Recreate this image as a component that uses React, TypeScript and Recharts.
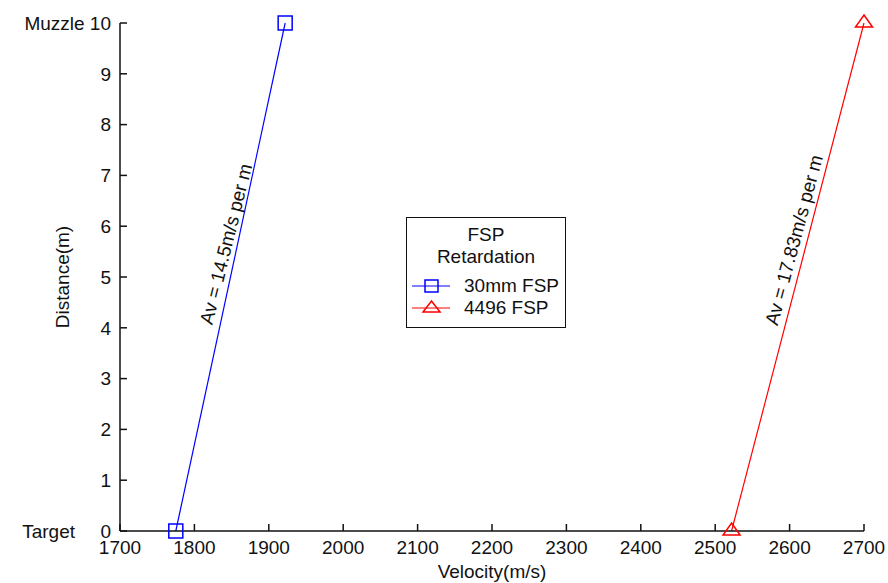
import React from 'react';
import { LineChart, Line, XAxis, YAxis, ReferenceDot, Legend } from 'recharts';

const FONT = '"Liberation Sans", Arial, Helvetica, sans-serif';
const INK = '#111';
const FONT_SIZE = 19;

const VELOCITY_TICKS = [1700, 1800, 1900, 2000, 2100, 2200, 2300, 2400, 2500, 2600, 2700];
const DISTANCE_TICKS = [0, 1, 2, 3, 4, 5, 6, 7, 8, 9, 10];

// projectile velocity (m/s) at target (0 m) and at muzzle (10 m)
const FSP30_VELOCITY = [1775, 1922];
const FSP30_DISTANCE = [0, 10];
const FSP4496_VELOCITY = [2522, 2700];
const FSP4496_DISTANCE = [0, 10];

const fsp30 = FSP30_VELOCITY.map((v, i) => ({ x: v, y: FSP30_DISTANCE[i] }));
const fsp4496 = FSP4496_VELOCITY.map((v, i) => ({ x: v, y: FSP4496_DISTANCE[i] }));

const NOTES = [
  { text: 'Av = 14.5m/s per m', x: 1842.5, y: 5.65, angle: -76 },
  { text: 'Av = 17.83m/s per m', x: 2606, y: 5.73, angle: -75 },
];

const TICK_LEN = 7;
const GAP = 9;

const BottomTick = (props: any) => {
  const { x, y, payload } = props;
  const axisY = y - GAP;
  return (
    <g>
      <line x1={x} y1={axisY} x2={x} y2={axisY - TICK_LEN} stroke={INK} strokeWidth={1.5} />
      <text x={x} y={y} dy="0.72em" textAnchor="middle" fill={INK} fontSize={FONT_SIZE} fontFamily={FONT}>
        {payload.value}
      </text>
    </g>
  );
};

const LeftTick = (props: any) => {
  const { x, y, payload } = props;
  const axisX = x + GAP;
  const v = payload.value;
  return (
    <g>
      <line x1={axisX} y1={y} x2={axisX + TICK_LEN} y2={y} stroke={INK} strokeWidth={1.5} />
      <text x={x} y={y} dy="0.36em" textAnchor="end" fill={INK} fontSize={FONT_SIZE} fontFamily={FONT}>
        {v === 10 ? 'Muzzle 10' : v}
      </text>
      {v === 0 && (
        <text x={75} y={y} dy="0.36em" textAnchor="end" fill={INK} fontSize={FONT_SIZE} fontFamily={FONT}>
          Target
        </text>
      )}
    </g>
  );
};

const TopTick = (props: any) => {
  const { x, y } = props;
  return <line x1={x} y1={y} x2={x} y2={y + TICK_LEN} stroke={INK} strokeWidth={1.5} />;
};

const RightTick = (props: any) => {
  const { x, y } = props;
  return <line x1={x} y1={y} x2={x - TICK_LEN} y2={y} stroke={INK} strokeWidth={1.5} />;
};

const SquareDot = (props: any) => {
  const { cx, cy, index } = props;
  return <rect key={`sq-${index}`} x={cx - 7} y={cy - 7} width={14} height={14} fill="none" stroke="#0000ff" strokeWidth={1.5} />;
};

const TriangleDot = (props: any) => {
  const { cx, cy, index } = props;
  return (
    <polygon
      key={`tr-${index}`}
      points={`${cx},${cy - 8} ${cx + 8.5},${cy + 4} ${cx - 8.5},${cy + 4}`}
      fill="none"
      stroke="#ff0000"
      strokeWidth={1.5}
    />
  );
};

const LegendBox = (props: any) => {
  const items = props.payload || [];
  return (
    <div
      style={{
        position: 'relative',
        width: 160,
        height: 111,
        border: `1.5px solid ${INK}`,
        background: '#fff',
        boxSizing: 'border-box',
        fontFamily: FONT,
        fontSize: FONT_SIZE,
        color: INK,
        lineHeight: '22px',
      }}
    >
      <div style={{ position: 'absolute', top: 6, left: 0, right: 0, textAlign: 'center' }}>FSP</div>
      <div style={{ position: 'absolute', top: 28, left: 0, right: 0, textAlign: 'center' }}>Retardation</div>
      {items.map((it: any, i: number) => (
        <div key={it.value} style={{ position: 'absolute', top: 57 + i * 22, left: 5, height: 22, display: 'flex', alignItems: 'center' }}>
          <svg width={40} height={22} style={{ display: 'block' }}>
            <line x1={0} y1={11} x2={38} y2={11} stroke={it.color} strokeWidth={1.2} />
            {i === 0 ? (
              <rect x={13} y={5} width={13} height={12} fill="none" stroke={it.color} strokeWidth={1.5} />
            ) : (
              <polygon points="19.5,4 28,15 11,15" fill="none" stroke={it.color} strokeWidth={1.5} />
            )}
          </svg>
          <span style={{ marginLeft: 12 }}>{it.value}</span>
        </div>
      ))}
    </div>
  );
};

const NoteLabel = (text: string, angle: number) => (props: any) => {
  const vb = props.viewBox || {};
  const cx = vb.x + (vb.width || 0) / 2;
  const cy = vb.y + (vb.height || 0) / 2;
  return (
    <text
      x={cx}
      y={cy}
      transform={`rotate(${angle} ${cx} ${cy})`}
      textAnchor="middle"
      dominantBaseline="central"
      fill={INK}
      fontSize={FONT_SIZE}
      fontFamily={FONT}
    >
      {text}
    </text>
  );
};

export default function App() {
  return (
    <div style={{ position: 'absolute', left: 0, top: 0, background: '#fff' }}>
      <LineChart width={888} height={583} margin={{ top: 23, right: 24, bottom: 0, left: 0 }}>
        <XAxis
          dataKey="x"
          type="number"
          domain={[1700, 2700]}
          ticks={VELOCITY_TICKS}
          interval={0}
          height={52}
          tickSize={0}
          tickMargin={GAP}
          tickLine={false}
          axisLine={{ stroke: INK, strokeWidth: 1.5 }}
          tick={<BottomTick />}
          label={{ value: 'Velocity(m/s)', position: 'insideBottom', offset: 5, fill: INK, fontSize: FONT_SIZE, fontFamily: FONT }}
        />
        <XAxis
          xAxisId="top"
          orientation="top"
          dataKey="x"
          type="number"
          domain={[1700, 2700]}
          ticks={VELOCITY_TICKS}
          interval={0}
          height={0}
          tickSize={0}
          tickMargin={0}
          tickLine={false}
          axisLine={{ stroke: INK, strokeWidth: 1.5 }}
          tick={<TopTick />}
        />
        <YAxis
          type="number"
          domain={[0, 10]}
          ticks={DISTANCE_TICKS}
          interval={0}
          width={120}
          tickSize={0}
          tickMargin={GAP}
          tickLine={false}
          axisLine={{ stroke: INK, strokeWidth: 1.5 }}
          tick={<LeftTick />}
          label={{
            content: () => (
              <text
                x={69}
                y={277}
                transform="rotate(-90 69 277)"
                textAnchor="middle"
                fill={INK}
                fontSize={FONT_SIZE}
                fontFamily={FONT}
              >
                Distance(m)
              </text>
            ),
          }}
        />
        <YAxis
          yAxisId="right"
          orientation="right"
          type="number"
          domain={[0, 10]}
          ticks={DISTANCE_TICKS}
          interval={0}
          width={0}
          tickSize={0}
          tickMargin={0}
          tickLine={false}
          axisLine={{ stroke: INK, strokeWidth: 1.5 }}
          tick={<RightTick />}
        />
        <Legend
          layout="vertical"
          align="center"
          verticalAlign="middle"
          wrapperStyle={{ left: 406, top: 217, width: 160 }}
          content={<LegendBox />}
        />
        <Line
          name="30mm FSP"
          data={fsp30}
          dataKey="y"
          stroke="#0000ff"
          strokeWidth={1.2}
          dot={SquareDot}
          activeDot={false}
          isAnimationActive={false}
        />
        <Line
          name="4496 FSP"
          data={fsp4496}
          dataKey="y"
          stroke="#ff0000"
          strokeWidth={1.2}
          dot={TriangleDot}
          activeDot={false}
          isAnimationActive={false}
        />
        {NOTES.map((n) => (
          <ReferenceDot
            key={n.text}
            x={n.x}
            y={n.y}
            r={0}
            fill="none"
            stroke="none"
            label={{ content: NoteLabel(n.text, n.angle) }}
          />
        ))}
      </LineChart>
    </div>
  );
}
